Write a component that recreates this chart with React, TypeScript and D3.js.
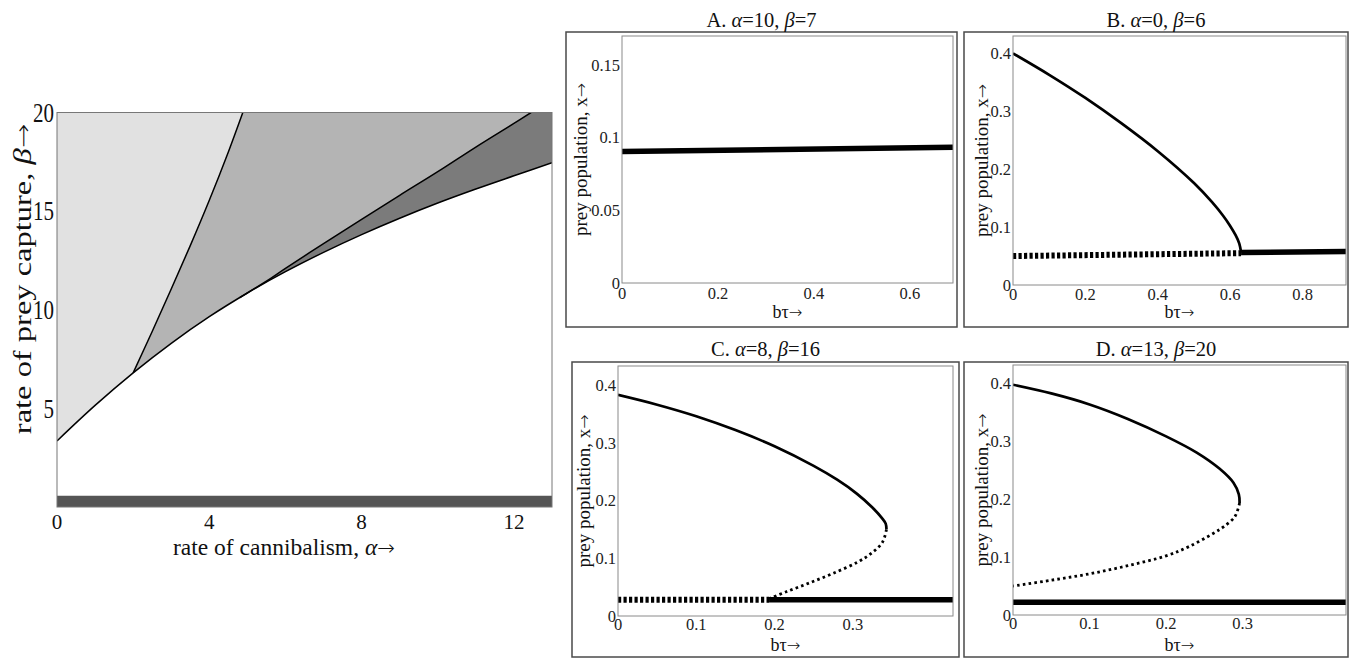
import React from "react";
import * as d3 from "d3";

type Pt = [number, number];

// ---- left chart: regions in the (alpha, beta) plane ----
const lowerBoundary: Pt[] = [
  [0, 3.35], [1, 5.15], [2, 6.8], [3, 8.3], [4, 9.65], [5, 10.85], [6, 11.93],
  [7, 12.91], [8, 13.81], [9, 14.64], [10, 15.41], [11, 16.12], [12, 16.79], [13, 17.45],
];
const steepBoundary: Pt[] = [
  [2, 6.8], [2.5, 8.9], [3, 11.05], [3.5, 13.25], [4, 15.55], [4.5, 18.0], [4.88, 20],
];
const darkBoundary: Pt[] = [
  [4.8, 10.62], [5.5, 11.45], [6, 12.1], [7, 13.35], [8, 14.58], [9, 15.8],
  [10, 17.0], [11, 18.25], [12, 19.45], [12.45, 20],
];
const bandTop = 0.57;
const leftXTicks = [0, 4, 8, 12];
const leftYTicks = [5, 10, 15, 20];

// ---- panels: prey population x against b*tau ----
const panelNames = ["A.", "B.", "C.", "D."];
const panelAlpha = [10, 0, 8, 13];
const panelBeta = [7, 6, 16, 20];
const panelXMax = [0.69, 0.92, 0.428, 0.435];
const panelYMax = [0.17, 0.43, 0.433, 0.431];
const panelXTicks = [
  [0, 0.2, 0.4, 0.6],
  [0, 0.2, 0.4, 0.6, 0.8],
  [0, 0.1, 0.2, 0.3],
  [0, 0.1, 0.2, 0.3],
];
const panelYTicks = [
  [0, 0.05, 0.1, 0.15],
  [0, 0.1, 0.2, 0.3, 0.4],
  [0, 0.1, 0.2, 0.3, 0.4],
  [0, 0.1, 0.2, 0.3, 0.4],
];

const aStable: Pt[] = [[0, 0.0905], [0.69, 0.0935]];

const bUpper: Pt[] = [
  [0, 0.4], [0.1, 0.363], [0.2, 0.323], [0.3, 0.279], [0.4, 0.231], [0.5, 0.176],
  [0.55, 0.143], [0.58, 0.12], [0.6, 0.102], [0.615, 0.086], [0.625, 0.072], [0.63, 0.057],
];
const bUnstable: Pt[] = [[0, 0.05], [0.63, 0.055]];
const bStable: Pt[] = [[0.63, 0.056], [0.92, 0.058]];

const cUpper: Pt[] = [
  [0, 0.383], [0.05, 0.366], [0.1, 0.346], [0.15, 0.322], [0.2, 0.294], [0.25, 0.26],
  [0.28, 0.236], [0.305, 0.212], [0.325, 0.188], [0.337, 0.17], [0.342, 0.16], [0.343, 0.15],
];
const cMiddle: Pt[] = [
  [0.343, 0.15], [0.338, 0.128], [0.325, 0.11], [0.307, 0.094], [0.275, 0.074],
  [0.244, 0.057], [0.215, 0.042], [0.193, 0.03],
];
const cUnstable: Pt[] = [[0, 0.028], [0.193, 0.028]];
const cStable: Pt[] = [[0.193, 0.028], [0.428, 0.028]];

const dUpper: Pt[] = [
  [0, 0.397], [0.05, 0.382], [0.1, 0.363], [0.15, 0.338], [0.2, 0.308], [0.24, 0.28],
  [0.27, 0.252], [0.288, 0.228], [0.295, 0.208], [0.296, 0.193],
];
const dMiddle: Pt[] = [
  [0.296, 0.193], [0.29, 0.17], [0.275, 0.152], [0.262, 0.141], [0.23, 0.118],
  [0.2, 0.102], [0.15, 0.085], [0.1, 0.071], [0.05, 0.06], [0, 0.05],
];
const dStable: Pt[] = [[0, 0.022], [0.435, 0.022]];

type Kind = "stable" | "unstable" | "branch" | "dotted";
const panelSeries: { pts: Pt[]; kind: Kind }[][] = [
  [{ pts: aStable, kind: "stable" }],
  [
    { pts: bUpper, kind: "branch" },
    { pts: bUnstable, kind: "unstable" },
    { pts: bStable, kind: "stable" },
  ],
  [
    { pts: cUpper, kind: "branch" },
    { pts: cMiddle, kind: "dotted" },
    { pts: cUnstable, kind: "unstable" },
    { pts: cStable, kind: "stable" },
  ],
  [
    { pts: dUpper, kind: "branch" },
    { pts: dMiddle, kind: "dotted" },
    { pts: dStable, kind: "stable" },
  ],
];

// layout (pixels): outer box and inner plot [x0, y0, x1, y1]
const panelLayout = [
  { outer: [566, 32, 957, 327], inner: [622, 36, 953, 283], titleY: 27, labelX: 587, tickY: 299, bY: 318 },
  { outer: [964, 32, 1348, 327], inner: [1013, 36, 1346, 285], titleY: 27, labelX: 988, tickY: 300, bY: 318 },
  { outer: [572, 362, 959, 657], inner: [618, 366, 953, 616], titleY: 356, labelX: 590, tickY: 630, bY: 651 },
  { outer: [964, 362, 1348, 657], inner: [1013, 365, 1346, 615], titleY: 356, labelX: 988, tickY: 629, bY: 651 },
];

const FONT = "'Liberation Serif', 'DejaVu Serif', serif";
const ARROW_FONT = "'DejaVu Sans', sans-serif";

const kindStyle: Record<Kind, any> = {
  stable: { strokeWidth: 5.5 },
  unstable: { strokeWidth: 6, strokeDasharray: "3.2 2.3" },
  branch: { strokeWidth: 2.7 },
  dotted: { strokeWidth: 2.8, strokeDasharray: "2.6 3.2" },
};

const Arrow = () => (
  <tspan fontFamily={ARROW_FONT} fontSize="0.9em" fontWeight={300}>
    →
  </tspan>
);

const Panel = ({ i }: { i: number }) => {
  const { outer, inner, titleY, labelX, tickY, bY } = panelLayout[i];
  const x = d3.scaleLinear().domain([0, panelXMax[i]]).range([inner[0], inner[2]]);
  const y = d3.scaleLinear().domain([0, panelYMax[i]]).range([inner[3], inner[1]]);
  const line = d3
    .line<Pt>()
    .x((d) => x(d[0]))
    .y((d) => y(d[1]))
    .curve(d3.curveCatmullRom.alpha(0.5));
  const clipId = `panelClip${i}`;
  const cy = (inner[1] + inner[3]) / 2;
  return (
    <g fontFamily={FONT}>
      <defs>
        <clipPath id={clipId}>
          <rect x={inner[0]} y={inner[1]} width={inner[2] - inner[0]} height={inner[3] - inner[1]} />
        </clipPath>
      </defs>
      <rect
        x={outer[0]}
        y={outer[1]}
        width={outer[2] - outer[0]}
        height={outer[3] - outer[1]}
        fill="none"
        stroke="#4a4a4a"
        strokeWidth={1.5}
      />
      <text x={(outer[0] + outer[2]) / 2} y={titleY} fontSize={20.5} textAnchor="middle" fill="#111">
        <tspan>{panelNames[i]} </tspan>
        <tspan fontStyle="italic">α</tspan>
        <tspan>={panelAlpha[i]}, </tspan>
        <tspan fontStyle="italic">β</tspan>
        <tspan>={panelBeta[i]}</tspan>
      </text>
      <g clipPath={`url(#${clipId})`}>
        {panelSeries[i].map((s, k) => (
          <path key={k} d={line(s.pts) || ""} fill="none" stroke="#000" {...kindStyle[s.kind]} />
        ))}
      </g>
      <rect
        x={inner[0]}
        y={inner[1]}
        width={inner[2] - inner[0]}
        height={inner[3] - inner[1]}
        fill="none"
        stroke="#8a8a8a"
        strokeWidth={1}
      />
      {panelYTicks[i].map((t) => (
        <text key={t} x={inner[0] - 2} y={y(t)} dy="0.35em" fontSize={16.5} textAnchor="end" fill="#222">
          {String(t)}
        </text>
      ))}
      {panelXTicks[i].map((t) => (
        <text key={t} x={x(t)} y={tickY} fontSize={16.5} textAnchor="middle" fill="#222">
          {String(t)}
        </text>
      ))}
      <text
        transform={`translate(${labelX},${cy}) rotate(-90)`}
        fontSize={19}
        textAnchor="middle"
        fill="#111"
      >
        prey population, x<Arrow />
      </text>
      <text x={(inner[0] + inner[2]) / 2} y={bY} fontSize={18} textAnchor="middle" fill="#111">
        bτ<Arrow />
      </text>
    </g>
  );
};

const App = () => {
  const xL = d3.scaleLinear().domain([0, 13]).range([57, 552]);
  const yL = d3.scaleLinear().domain([0, 20]).range([507, 112.5]);

  const smooth = () =>
    d3
      .line<Pt>()
      .x((d) => xL(d[0]))
      .y((d) => yL(d[1]))
      .curve(d3.curveCatmullRom.alpha(0.5));

  const aboveLower =
    d3
      .area<Pt>()
      .x((d) => xL(d[0]))
      .y0((d) => yL(d[1]))
      .y1(yL(20))
      .curve(d3.curveCatmullRom.alpha(0.5))(lowerBoundary) || "";

  const rightOfSteep =
    smooth()(steepBoundary) +
    `L${xL(13)},${yL(20)}L${xL(13)},${yL(0)}L${xL(2)},${yL(0)}Z`;

  const belowDark =
    smooth()(darkBoundary) +
    `L${xL(13)},${yL(20)}L${xL(13)},${yL(0)}L${xL(darkBoundary[0][0])},${yL(0)}Z`;

  const [x0, x1] = xL.range();
  const [y0, y1] = yL.range();

  return (
    <svg
      width={1351}
      height={658}
      style={{ position: "absolute", left: 0, top: 0, background: "#fff" }}
    >
      <defs>
        <clipPath id="leftPlot">
          <rect x={x0} y={y1} width={x1 - x0} height={y0 - y1} />
        </clipPath>
        <clipPath id="steepClip">
          <path d={rightOfSteep} />
        </clipPath>
        <clipPath id="lowerClip">
          <path d={aboveLower} />
        </clipPath>
      </defs>

      <g clipPath="url(#leftPlot)">
        <rect x={x0} y={y1} width={x1 - x0} height={y0 - y1} fill="#fff" />
        <path d={aboveLower} fill="#e1e1e1" />
        <path d={aboveLower} fill="#b4b4b4" clipPath="url(#steepClip)" />
        <path d={belowDark} fill="#7b7b7b" clipPath="url(#lowerClip)" />
        <rect x={x0} y={yL(bandTop)} width={x1 - x0} height={yL(0) - yL(bandTop)} fill="#555" />
        <path d={smooth()(lowerBoundary) || ""} fill="none" stroke="#000" strokeWidth={1.5} />
        <path d={smooth()(steepBoundary) || ""} fill="none" stroke="#000" strokeWidth={1.5} />
        <path d={smooth()(darkBoundary) || ""} fill="none" stroke="#000" strokeWidth={1.5} />
      </g>
      <rect x={x0} y={y1} width={x1 - x0} height={y0 - y1} fill="none" stroke="#777" strokeWidth={1} />

      <g fontFamily={FONT} fill="#111">
        {leftYTicks.map((t) => (
          <text
            key={t}
            transform={`translate(${x0 - 3},${yL(t)}) scale(1,1.25)`}
            dy="0.35em"
            fontSize={21}
            textAnchor="end"
          >
            {t}
          </text>
        ))}
        {leftXTicks.map((t) => (
          <text key={t} x={xL(t)} y={yL(0) + 22} fontSize={21} textAnchor="middle">
            {t}
          </text>
        ))}
        <text x={284} y={555} fontSize={23.5} textAnchor="middle">
          rate of cannibalism, <tspan fontStyle="italic">α</tspan>
          <Arrow />
        </text>
        <text transform={`translate(31,279) scale(1,1.3) rotate(-90)`} fontSize={25} textAnchor="middle">
          rate of prey capture, <tspan fontStyle="italic">β</tspan>
          <Arrow />
        </text>
      </g>

      {panelLayout.map((_, i) => (
        <Panel key={i} i={i} />
      ))}
    </svg>
  );
};

export default App;
